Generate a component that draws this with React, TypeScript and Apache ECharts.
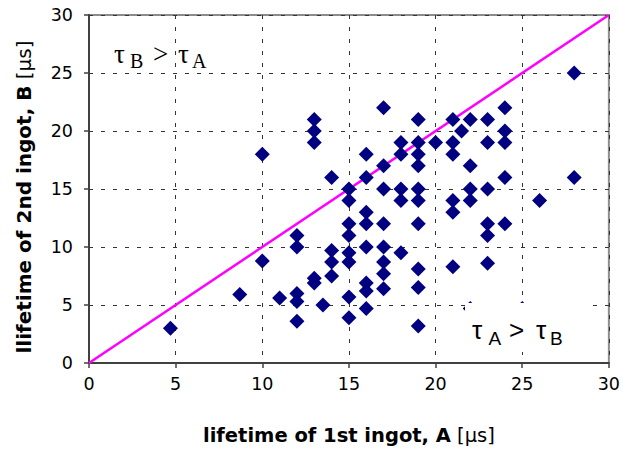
import React, { useEffect, useRef } from 'react';
import * as echarts from 'echarts';

// lifetime of 1st ingot, A [µs]
const lifetimeA = [
  4.7, 8.7, 10, 10, 11,
  12, 12, 12, 12, 12,
  13, 13, 13, 13, 13, 13.5,
  14, 14, 14, 14,
  15, 15, 15, 15, 15, 15, 15, 15,
  16, 16, 16, 16, 16, 16, 16, 16,
  17, 17, 17, 17, 17, 17, 17, 17,
  18, 18, 18, 18, 18,
  19, 19, 19, 19, 19, 19, 19, 19, 19, 19,
  20,
  21, 21, 21, 21, 21, 21, 21.5,
  22, 22, 22, 22, 22,
  23, 23, 23, 23, 23, 23,
  24, 24, 24, 24, 24,
  25, 26, 28, 28,
];
// lifetime of 2nd ingot, B [µs]
const lifetimeB = [
  3.0, 5.9, 18, 8.8, 5.6,
  11, 10, 6.0, 5.3, 3.6,
  21, 20, 19, 7.3, 6.9, 5.0,
  16, 9.7, 8.7, 7.5,
  15, 14, 12, 11, 9.5, 8.7, 5.7, 3.9,
  18, 16, 13, 12, 10, 6.9, 6.2, 4.7,
  22, 17, 15, 12, 10, 8.7, 7.7, 6.4,
  19, 18, 15, 14, 9.5,
  21, 19, 18, 17, 15, 14, 12, 8.1, 6.5, 3.2,
  19,
  21, 19, 18, 14, 13, 8.3, 20,
  21, 17, 15, 14, 4.7,
  21, 19, 15, 12, 11, 8.6,
  22, 20, 19, 16, 12,
  4.7, 14, 25, 16,
];
const diagonalX = [0, 30];
const diagonalY = [0, 30];
const axisMin = 0;
const axisMax = 30;
const axisStep = 5;

const xTitleBold = 'lifetime of 1st ingot, A';
const yTitleBold = 'llifetime of 2nd ingot, B';
const unitText = ' [μs]';

export default function App() {
  const ref = useRef<HTMLDivElement>(null);

  useEffect(() => {
    if (!ref.current) return;
    const chart = echarts.init(ref.current, null, { renderer: 'svg' });
    const points = lifetimeA.map((a, i) => [a, lifetimeB[i]]);
    const diag = diagonalX.map((x, i) => [x, diagonalY[i]]);

    const axisCommon = {
      type: 'value',
      min: axisMin,
      max: axisMax,
      interval: axisStep,
      axisLine: { show: true, onZero: false, lineStyle: { color: '#404040', width: 2 } },
      axisTick: { show: true, length: 5, lineStyle: { color: '#404040', width: 1.5 } },
      splitLine: { show: true, lineStyle: { color: '#333', type: [4, 8], width: 1 } },
      nameLocation: 'middle',
    };

    const serif = 'Liberation Serif, Times New Roman, serif';
    const sans = 'Liberation Sans, Arial, sans-serif';

    chart.setOption({
      animation: false,
      backgroundColor: '#fff',
      grid: {
        left: 89,
        right: 12,
        top: 15,
        bottom: 86,
        show: true,
        borderColor: '#8c8c8c',
        borderWidth: 2,
        backgroundColor: 'transparent',
      },
      xAxis: {
        ...axisCommon,
        axisLabel: { color: '#000', fontFamily: 'DejaVu Sans', fontSize: 17.5, margin: 12 },
        name: `{b|${xTitleBold}}{n|${unitText}}`,
        nameGap: 62,
        nameTextStyle: {
          rich: {
            b: { fontFamily: 'DejaVu Sans', fontWeight: 'bold', fontSize: 19.5, color: '#000' },
            n: { fontFamily: 'DejaVu Sans', fontSize: 19.5, color: '#000' },
          },
        },
      },
      yAxis: {
        ...axisCommon,
        axisLabel: { color: '#000', fontFamily: 'DejaVu Sans', fontSize: 17.5, margin: 16 },
        name: `{b|${yTitleBold}}{n|${unitText}}`,
        nameGap: 55,
        nameTextStyle: {
          padding: [0, 16, 0, 0],
          rich: {
            b: { fontFamily: 'DejaVu Sans', fontWeight: 'bold', fontSize: 20, color: '#000' },
            n: { fontFamily: 'DejaVu Sans', fontSize: 20, color: '#000' },
          },
        },
      },
      series: [
        {
          type: 'line',
          data: diag,
          showSymbol: false,
          symbol: 'none',
          lineStyle: { color: '#ff00ff', width: 2.5 },
          z: 1,
          silent: true,
        },
        {
          type: 'scatter',
          data: points,
          symbol: 'diamond',
          symbolSize: 15,
          itemStyle: { color: '#000080', opacity: 1 },
          z: 3,
        },
      ],
      graphic: [
        { type: 'text', z: 20, x: 114, y: 54, style: { text: 'τ', font: `27px ${serif}`, fill: '#000', verticalAlign: 'middle' } },
        { type: 'text', z: 20, x: 130, y: 61, style: { text: 'B', font: `20px ${serif}`, fill: '#000', verticalAlign: 'middle' } },
        { type: 'text', z: 20, x: 153, y: 54, style: { text: '>', font: `27px ${serif}`, fill: '#000', verticalAlign: 'middle' } },
        { type: 'text', z: 20, x: 178, y: 54, style: { text: 'τ', font: `27px ${serif}`, fill: '#000', verticalAlign: 'middle' } },
        { type: 'text', z: 20, x: 192, y: 61, style: { text: 'A', font: `20px ${serif}`, fill: '#000', verticalAlign: 'middle' } },
        { type: 'rect', z: 19, shape: { x: 465, y: 303, width: 128, height: 49 }, style: { fill: '#fff' } },
        { type: 'text', z: 20, x: 472, y: 330, style: { text: 'τ', font: `26px ${sans}`, fill: '#000', verticalAlign: 'middle' } },
        { type: 'text', z: 20, x: 488.5, y: 338.5, style: { text: 'A', font: `19px ${sans}`, fill: '#000', verticalAlign: 'middle' } },
        { type: 'text', z: 20, x: 509, y: 330, style: { text: '>', font: `26px ${sans}`, fill: '#000', verticalAlign: 'middle' } },
        { type: 'text', z: 20, x: 536, y: 330, style: { text: 'τ', font: `26px ${sans}`, fill: '#000', verticalAlign: 'middle' } },
        { type: 'text', z: 20, x: 550, y: 338.5, style: { text: 'B', font: `19px ${sans}`, fill: '#000', verticalAlign: 'middle' } },
      ],
    });

    return () => chart.dispose();
  }, []);

  return (
    <div
      ref={ref}
      style={{ position: 'fixed', left: 0, top: 0, width: 623, height: 450, background: '#fff' }}
    />
  );
}
